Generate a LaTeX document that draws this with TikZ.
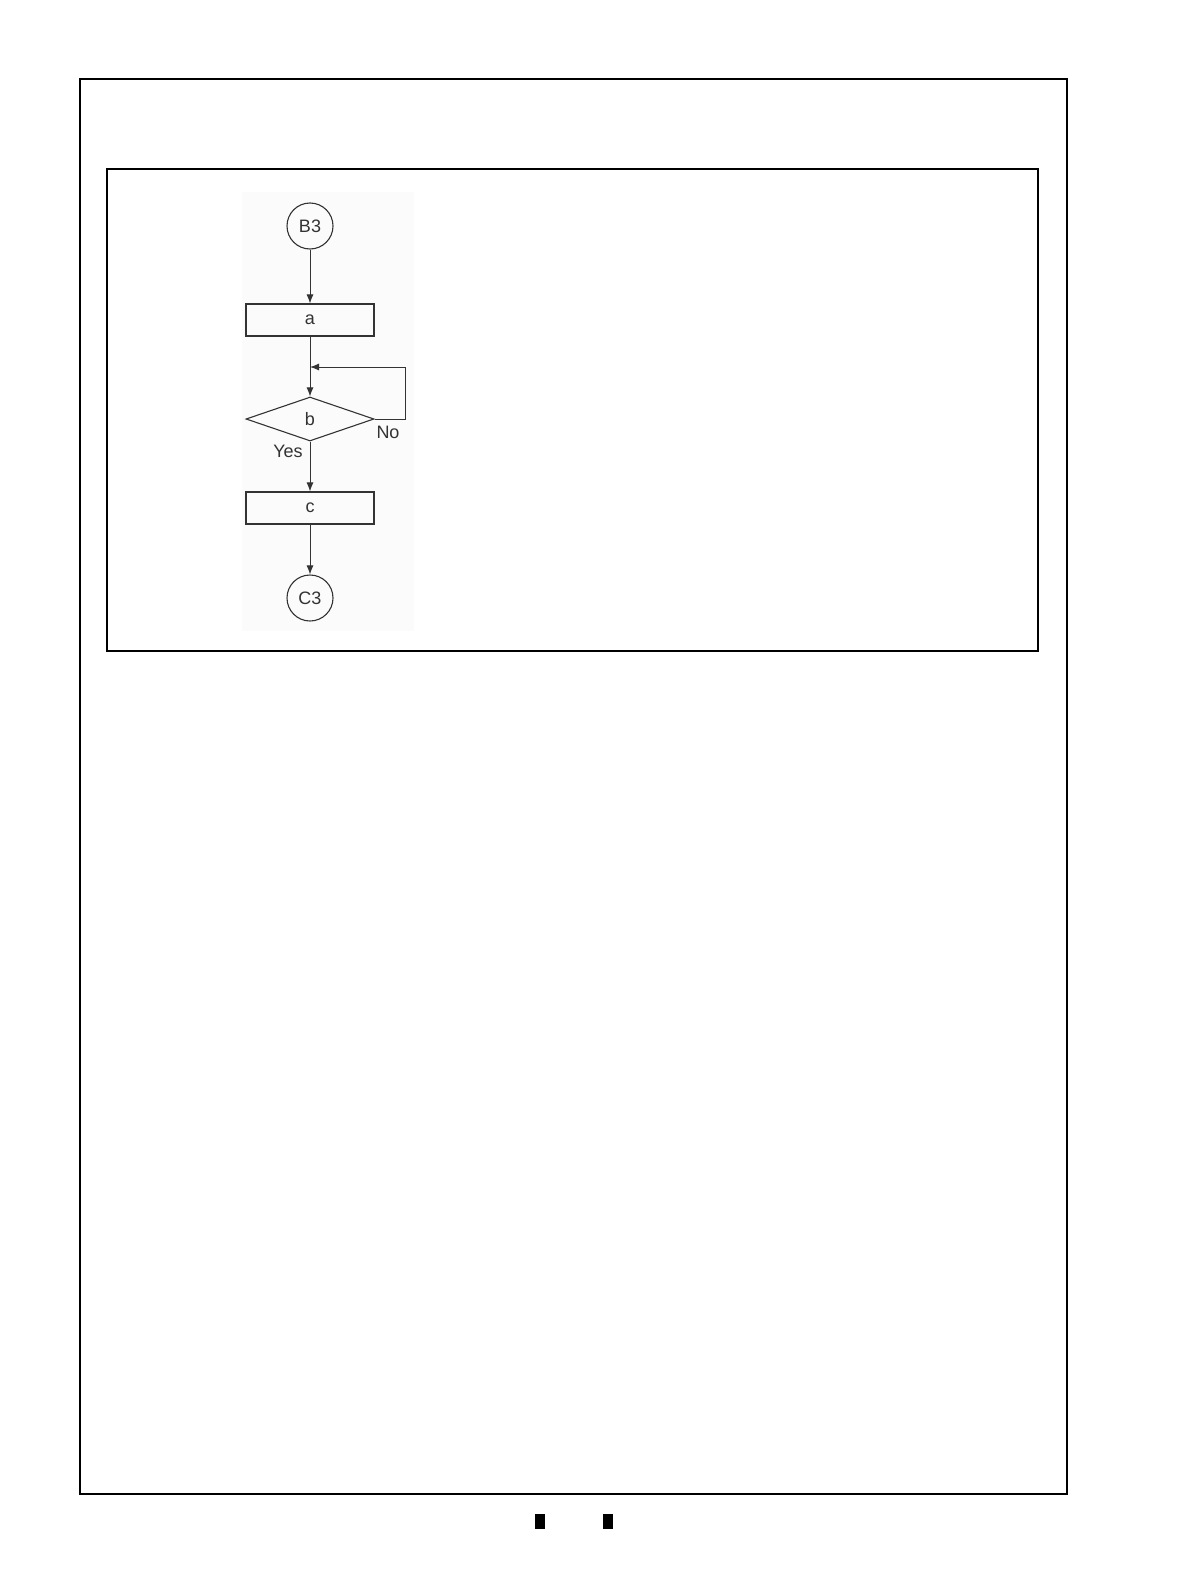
\documentclass[tikz,border=0pt]{standalone}
\usepackage{fontspec}
\setmainfont{Liberation Sans}
\usetikzlibrary{shapes.geometric,arrows.meta}
\begin{document}
\begin{tikzpicture}[
        x=1pt, y=-1pt,
        every node/.style={font=\fontsize{18}{21}\selectfont, text=black!80},
        frame/.style={draw, line width=2.3pt},
        flow/.style={draw=black!80, line width=1pt, -{Latex[length=9pt,width=7pt]}},
        term/.style={draw=black!80, line width=1.1pt, circle, minimum size=46pt, inner sep=0pt},
        proc/.style={draw=black!80, line width=1.1pt, rectangle, minimum width=128pt, minimum height=32pt, inner sep=0pt},
        test/.style={draw=black!80, line width=1.1pt, diamond, aspect=2.9, minimum width=128pt, minimum height=44pt, inner sep=0pt}
    ]
        \useasboundingbox (0,0) rectangle (1190,1584);

        % Rahmen
        \draw[frame] (80,79) rectangle (1067,1494);
        \draw[frame] (107,169) rectangle (1038,651);
        \fill[gray!3] (242,192) rectangle (414,631);

        % Ablauf
        \node[term] (B3) at (310,226) {B3};
        \node[proc] (a) at (310,320) {a};
        \node[test] (b) at (310,419) {b};
        \node[proc] (c) at (310,508) {c};
        \node[term] (C3) at (310,598) {C3};
        \coordinate (join) at (310,367);

        \draw[flow] (B3) -- (a);
        \draw[flow] (a) -- (b);
        \draw[flow] (b.east) -- ++(31,0) |- (join);
        \draw[flow] (b) -- (c);
        \draw[flow] (c) -- (C3);

        \node (no) at (388,432) {No};
        \node (yes) at (288,451) {Yes};

        % Marken unten
        \fill (535,1514) rectangle (545,1529);
        \fill (603,1514) rectangle (613,1529);
    \end{tikzpicture}
\end{document}
